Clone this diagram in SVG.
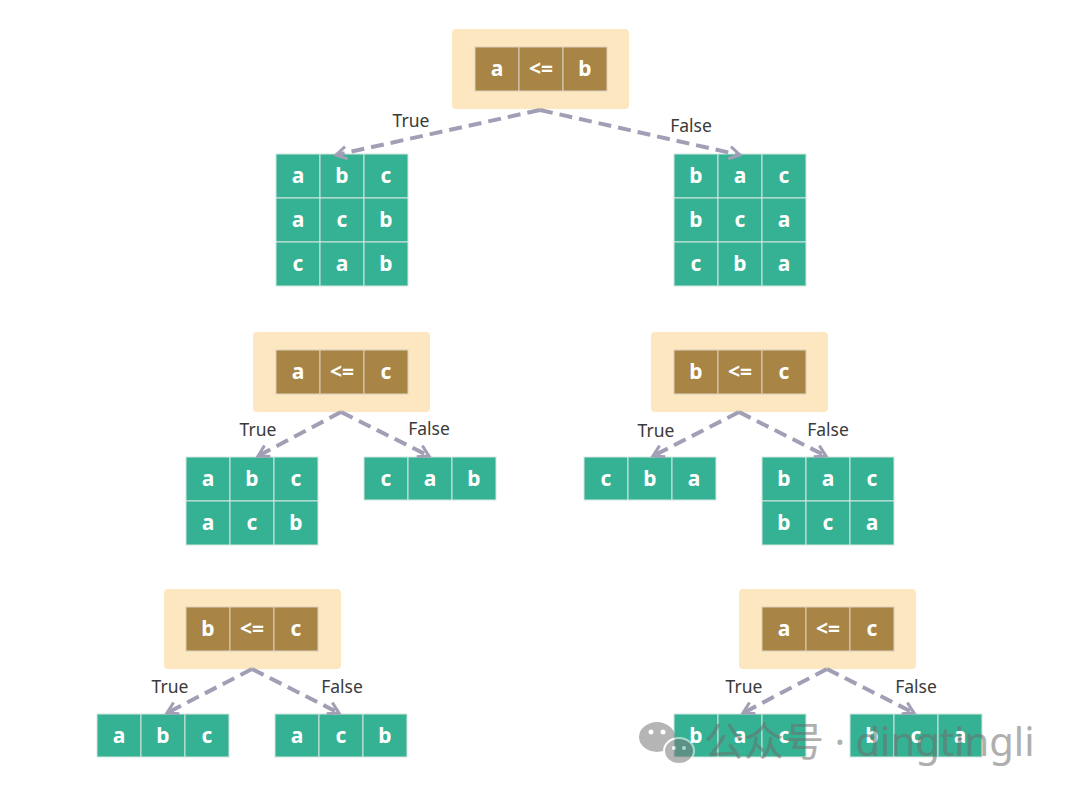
<svg xmlns="http://www.w3.org/2000/svg" width="1080" height="797" viewBox="0 0 1080 797">
<style>
.bg{fill:#ffffff}
.cmp{fill:#fde7c1}
.b{fill:#a88545;stroke:#d9d0c0;stroke-width:1}
.g{fill:#35b193;stroke:#d6e6df;stroke-width:1}
.t{font-family:"Noto Sans","Open Sans",sans-serif;font-weight:700;font-size:21px;fill:#ffffff;text-anchor:middle}
.lbl{font-family:"Noto Sans","Open Sans",sans-serif;font-size:17.5px;fill:#3a3a3a;text-anchor:middle}
.e{fill:none;stroke:#a19fb5;stroke-width:4;stroke-dasharray:13 7;marker-end:url(#ah)}
.wm{font-family:"Noto Sans","Noto Sans CJK SC",sans-serif;font-size:40px;fill:#6e6e6e}
</style>
<defs>
<marker id="ah" viewBox="0 0 12 12" refX="10" refY="6" markerWidth="15" markerHeight="15" markerUnits="userSpaceOnUse" orient="auto">
<path d="M1.5,1 L10,6 L1.5,11" fill="none" stroke="#a19fb5" stroke-width="2.4" stroke-linejoin="miter"/>
</marker>
</defs>
<rect class="bg" x="0" y="0" width="1080" height="797"/>

<g id="cmp-ab">
<rect class="cmp" x="452" y="29" width="177" height="80" rx="4"/>
<rect class="b" x="475" y="47" width="44" height="44"/><rect class="b" x="519" y="47" width="44" height="44"/><rect class="b" x="563" y="47" width="44" height="44"/>
<text class="t" x="497" y="76">a</text><text class="t" x="541" y="76">&lt;=</text><text class="t" x="585" y="76">b</text>
</g>

<g id="set-left">
<rect class="g" x="276" y="154" width="44" height="44"/><rect class="g" x="320" y="154" width="44" height="44"/><rect class="g" x="364" y="154" width="44" height="44"/>
<rect class="g" x="276" y="198" width="44" height="44"/><rect class="g" x="320" y="198" width="44" height="44"/><rect class="g" x="364" y="198" width="44" height="44"/>
<rect class="g" x="276" y="242" width="44" height="44"/><rect class="g" x="320" y="242" width="44" height="44"/><rect class="g" x="364" y="242" width="44" height="44"/>
<text class="t" x="298" y="183">a</text><text class="t" x="342" y="183">b</text><text class="t" x="386" y="183">c</text>
<text class="t" x="298" y="227">a</text><text class="t" x="342" y="227">c</text><text class="t" x="386" y="227">b</text>
<text class="t" x="298" y="271">c</text><text class="t" x="342" y="271">a</text><text class="t" x="386" y="271">b</text>
</g>
<g id="set-right">
<rect class="g" x="674" y="154" width="44" height="44"/><rect class="g" x="718" y="154" width="44" height="44"/><rect class="g" x="762" y="154" width="44" height="44"/>
<rect class="g" x="674" y="198" width="44" height="44"/><rect class="g" x="718" y="198" width="44" height="44"/><rect class="g" x="762" y="198" width="44" height="44"/>
<rect class="g" x="674" y="242" width="44" height="44"/><rect class="g" x="718" y="242" width="44" height="44"/><rect class="g" x="762" y="242" width="44" height="44"/>
<text class="t" x="696" y="183">b</text><text class="t" x="740" y="183">a</text><text class="t" x="784" y="183">c</text>
<text class="t" x="696" y="227">b</text><text class="t" x="740" y="227">c</text><text class="t" x="784" y="227">a</text>
<text class="t" x="696" y="271">c</text><text class="t" x="740" y="271">b</text><text class="t" x="784" y="271">a</text>
</g>

<g id="cmp-ac-1">
<rect class="cmp" x="253" y="332" width="177" height="80" rx="4"/>
<rect class="b" x="276" y="350" width="44" height="44"/><rect class="b" x="320" y="350" width="44" height="44"/><rect class="b" x="364" y="350" width="44" height="44"/>
<text class="t" x="298" y="379">a</text><text class="t" x="342" y="379">&lt;=</text><text class="t" x="386" y="379">c</text>
</g>
<g id="cmp-bc-1">
<rect class="cmp" x="651" y="332" width="177" height="80" rx="4"/>
<rect class="b" x="674" y="350" width="44" height="44"/><rect class="b" x="718" y="350" width="44" height="44"/><rect class="b" x="762" y="350" width="44" height="44"/>
<text class="t" x="696" y="379">b</text><text class="t" x="740" y="379">&lt;=</text><text class="t" x="784" y="379">c</text>
</g>

<g id="set-ll">
<rect class="g" x="186" y="457" width="44" height="44"/><rect class="g" x="230" y="457" width="44" height="44"/><rect class="g" x="274" y="457" width="44" height="44"/>
<rect class="g" x="186" y="501" width="44" height="44"/><rect class="g" x="230" y="501" width="44" height="44"/><rect class="g" x="274" y="501" width="44" height="44"/>
<text class="t" x="208" y="486">a</text><text class="t" x="252" y="486">b</text><text class="t" x="296" y="486">c</text>
<text class="t" x="208" y="530">a</text><text class="t" x="252" y="530">c</text><text class="t" x="296" y="530">b</text>
</g>
<g id="set-lr">
<rect class="g" x="364" y="457" width="44" height="43"/><rect class="g" x="408" y="457" width="44" height="43"/><rect class="g" x="452" y="457" width="44" height="43"/>
<text class="t" x="386" y="486">c</text><text class="t" x="430" y="486">a</text><text class="t" x="474" y="486">b</text>
</g>
<g id="set-rl">
<rect class="g" x="584" y="457" width="44" height="43"/><rect class="g" x="628" y="457" width="44" height="43"/><rect class="g" x="672" y="457" width="44" height="43"/>
<text class="t" x="606" y="486">c</text><text class="t" x="650" y="486">b</text><text class="t" x="694" y="486">a</text>
</g>
<g id="set-rr">
<rect class="g" x="762" y="457" width="44" height="44"/><rect class="g" x="806" y="457" width="44" height="44"/><rect class="g" x="850" y="457" width="44" height="44"/>
<rect class="g" x="762" y="501" width="44" height="44"/><rect class="g" x="806" y="501" width="44" height="44"/><rect class="g" x="850" y="501" width="44" height="44"/>
<text class="t" x="784" y="486">b</text><text class="t" x="828" y="486">a</text><text class="t" x="872" y="486">c</text>
<text class="t" x="784" y="530">b</text><text class="t" x="828" y="530">c</text><text class="t" x="872" y="530">a</text>
</g>

<g id="cmp-bc-2">
<rect class="cmp" x="164" y="589" width="177" height="80" rx="4"/>
<rect class="b" x="186" y="607" width="44" height="44"/><rect class="b" x="230" y="607" width="44" height="44"/><rect class="b" x="274" y="607" width="44" height="44"/>
<text class="t" x="208" y="636">b</text><text class="t" x="252" y="636">&lt;=</text><text class="t" x="296" y="636">c</text>
</g>
<g id="cmp-ac-2">
<rect class="cmp" x="739" y="589" width="177" height="80" rx="4"/>
<rect class="b" x="762" y="607" width="44" height="44"/><rect class="b" x="806" y="607" width="44" height="44"/><rect class="b" x="850" y="607" width="44" height="44"/>
<text class="t" x="784" y="636">a</text><text class="t" x="828" y="636">&lt;=</text><text class="t" x="872" y="636">c</text>
</g>

<g id="set-abc">
<rect class="g" x="97" y="714" width="44" height="43"/><rect class="g" x="141" y="714" width="44" height="43"/><rect class="g" x="185" y="714" width="44" height="43"/>
<text class="t" x="119" y="743">a</text><text class="t" x="163" y="743">b</text><text class="t" x="207" y="743">c</text>
</g>
<g id="set-acb">
<rect class="g" x="275" y="714" width="44" height="43"/><rect class="g" x="319" y="714" width="44" height="43"/><rect class="g" x="363" y="714" width="44" height="43"/>
<text class="t" x="297" y="743">a</text><text class="t" x="341" y="743">c</text><text class="t" x="385" y="743">b</text>
</g>
<g id="set-bac">
<rect class="g" x="674" y="714" width="44" height="43"/><rect class="g" x="718" y="714" width="44" height="43"/><rect class="g" x="762" y="714" width="44" height="43"/>
<text class="t" x="696" y="743">b</text><text class="t" x="740" y="743">a</text><text class="t" x="784" y="743">c</text>
</g>
<g id="set-bca">
<rect class="g" x="850" y="714" width="44" height="43"/><rect class="g" x="894" y="714" width="44" height="43"/><rect class="g" x="938" y="714" width="44" height="43"/>
<text class="t" x="872" y="743">b</text><text class="t" x="916" y="743">c</text><text class="t" x="960" y="743">a</text>
</g>

<g id="connectors">
<path class="e" d="M540,110 L336,155"/>
<path class="e" d="M540,110 L740,155"/>
<path class="e" d="M341,412 L258,456"/>
<path class="e" d="M341,412 L429,456"/>
<path class="e" d="M739,412 L653,456"/>
<path class="e" d="M739,412 L826,456"/>
<path class="e" d="M252,669 L167,713"/>
<path class="e" d="M252,669 L339,713"/>
<path class="e" d="M827,669 L743,713"/>
<path class="e" d="M827,669 L914,713"/>
<text class="lbl" x="411" y="127">True</text>
<text class="lbl" x="691" y="132">False</text>
<text class="lbl" x="258" y="436">True</text>
<text class="lbl" x="429" y="435">False</text>
<text class="lbl" x="656" y="437">True</text>
<text class="lbl" x="828" y="436">False</text>
<text class="lbl" x="170" y="693">True</text>
<text class="lbl" x="342" y="693">False</text>
<text class="lbl" x="744" y="693">True</text>
<text class="lbl" x="916" y="693">False</text>
</g>

<g id="watermark" opacity="0.55">
<ellipse cx="657" cy="737" rx="18" ry="15" fill="#7a7a7a"/>
<ellipse cx="679" cy="751" rx="15" ry="13" fill="#7a7a7a" stroke="#ffffff" stroke-width="2"/>
<circle cx="651" cy="732" r="2.5" fill="#ffffff"/><circle cx="663" cy="732" r="2.5" fill="#ffffff"/>
<circle cx="674" cy="748" r="2" fill="#ffffff"/><circle cx="684" cy="748" r="2" fill="#ffffff"/>
<text class="wm" x="704" y="756">公众号 · dingtingli</text>
</g>
</svg>
